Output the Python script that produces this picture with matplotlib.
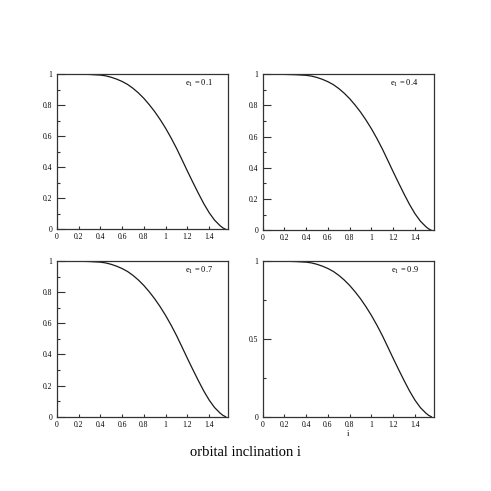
#!/usr/bin/env python3
"""Four-panel plot of the curve against orbital inclination i."""

import matplotlib

matplotlib.use("Agg")
import matplotlib.pyplot as plt
from matplotlib.ticker import FixedLocator, FuncFormatter

# values (same curve in every panel)
incl = [0.0, 0.05, 0.1, 0.15, 0.2, 0.25, 0.3, 0.35, 0.4, 0.45, 0.5, 0.55,
        0.6, 0.65, 0.7, 0.75, 0.8, 0.85, 0.9, 0.95, 1.0, 1.05, 1.1, 1.15,
        1.2, 1.25, 1.3, 1.35, 1.4, 1.45, 1.5, 1.525, 1.55]
curve = [1.0, 1.0, 1.0, 1.0, 0.999, 0.998, 0.997, 0.995, 0.993, 0.988,
         0.979, 0.967, 0.952, 0.933, 0.908, 0.878, 0.843, 0.802, 0.757,
         0.706, 0.650, 0.588, 0.521, 0.448, 0.374, 0.302, 0.232, 0.165,
         0.106, 0.058, 0.023, 0.009, 0.0]
ecc_labels = ["0.1", "0.4", "0.7", "0.9"]
x_ticks = [0, 0.2, 0.4, 0.6, 0.8, 1.0, 1.2, 1.4]
y_major = [[0, 0.2, 0.4, 0.6, 0.8, 1.0]] * 3 + [[0, 0.5, 1.0]]
y_minor = [[0.1, 0.3, 0.5, 0.7, 0.9]] * 3 + [[0.25, 0.75]]

plt.rcParams["font.family"] = ["Liberation Serif", "DejaVu Serif"]
plt.rcParams["mathtext.fontset"] = "custom"
plt.rcParams["mathtext.rm"] = "Liberation Serif"
plt.rcParams["mathtext.it"] = "Liberation Serif:italic"

# axes boxes in figure fractions: left, bottom, width, height
boxes = [
    (0.1155, 0.533, 0.3495, 0.3163),
    (0.535, 0.531, 0.349, 0.3178),
    (0.1155, 0.1513, 0.3495, 0.317),
    (0.535, 0.1513, 0.349, 0.317),
]


def _fmt(v, _pos):
    return f"{v:g}"


def main():
    fig = plt.figure(figsize=(4.91, 4.91), dpi=100)

    for k, box in enumerate(boxes):
        ax = fig.add_axes(box)
        ax.plot(incl, curve, color="#1a1a1a", lw=0.9)
        ax.set_xlim(0, 1.575)
        ax.set_ylim(0, 1)

        ax.xaxis.set_major_locator(FixedLocator(x_ticks))
        ax.xaxis.set_major_formatter(FuncFormatter(_fmt))
        ax.yaxis.set_major_locator(FixedLocator(y_major[k]))
        ax.yaxis.set_minor_locator(FixedLocator(y_minor[k]))
        ax.yaxis.set_major_formatter(FuncFormatter(_fmt))

        ax.tick_params(axis="both", which="both", direction="in",
                       labelsize=5.5, width=0.8, color="#333333")
        ax.tick_params(axis="y", which="major", length=5.5, pad=3)
        ax.tick_params(axis="y", which="minor", length=2.5)
        ax.tick_params(axis="x", which="major", length=2.5, pad=3)
        for sp in ax.spines.values():
            sp.set_linewidth(0.9)
            sp.set_color("#333333")

        ax.text(0.91, 0.94, r"e$_{\mathregular{1}}$ = " + ecc_labels[k],
                transform=ax.transAxes, ha="right", va="center", fontsize=6)

        if k == 3:
            ax.set_xlabel("i", fontsize=6, labelpad=1)

    fig.text(0.5, 0.079, "orbital inclination i", ha="center", va="center",
             fontsize=10.5)
    fig.savefig("out.png", dpi=100)
    plt.close(fig)


if __name__ == "__main__":
    main()
